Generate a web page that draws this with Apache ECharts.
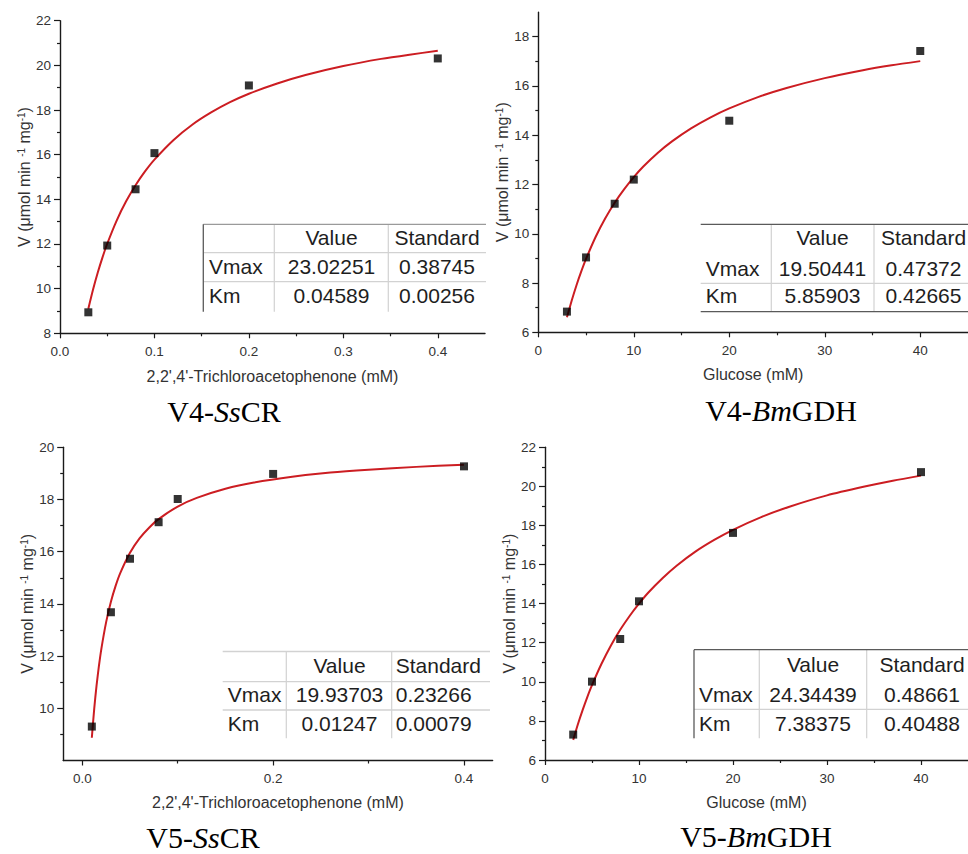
<!DOCTYPE html>
<html><head><meta charset="utf-8">
<script src="https://cdn.jsdelivr.net/npm/echarts@6/dist/echarts.min.js"></script>
<style>html,body{margin:0;padding:0;background:#fff}#c{width:968px;height:854px}</style>
</head><body><div id="c"></div>
<script>
// ---------- data ----------
const xTitleCR = "2,2',4'-Trichloroacetophenone (mM)";
const xTitleGDH = "Glucose (mM)";
const yTitle = "V (μmol min {sup|-1} mg{sup|-1})";
const captions = ["V4-{i|Ss}CR", "V4-{i|Bm}GDH", "V5-{i|Ss}CR", "V5-{i|Bm}GDH"];

const tableColumns = ["Value", "Standard"];
const tableRows = ["Vmax", "Km"];
const v4SsCR_table = [["23.02251", "0.38745"], ["0.04589", "0.00256"]];
const v4BmGDH_table = [["19.50441", "0.47372"], ["5.85903", "0.42665"]];
const v5SsCR_table = [["19.93703", "0.23266"], ["0.01247", "0.00079"]];
const v5BmGDH_table = [["24.34439", "0.48661"], ["7.38375", "0.40488"]];

// measured points
const v4SsCR_S = [0.03, 0.05, 0.08, 0.1, 0.2, 0.4];
const v4SsCR_V = [8.94, 11.93, 14.45, 16.07, 19.10, 20.31];
const v4BmGDH_S = [3, 5, 8, 10, 20, 40];
const v4BmGDH_V = [6.84, 9.04, 11.22, 12.20, 14.59, 17.42];
const v5SsCR_S = [0.01, 0.03, 0.05, 0.08, 0.1, 0.2, 0.4];
const v5SsCR_V = [9.30, 13.68, 15.73, 17.13, 18.02, 18.98, 19.27];
const v5BmGDH_S = [3, 5, 8, 10, 20, 40];
const v5BmGDH_V = [7.30, 10.01, 12.19, 14.12, 17.62, 20.73];

// fitted curves
const v4SsCR_fitS = [0.03, 0.035, 0.04, 0.045, 0.05, 0.06, 0.07, 0.08, 0.09, 0.1, 0.12, 0.14, 0.16, 0.18, 0.2, 0.23, 0.26, 0.3, 0.34, 0.37, 0.4];
const v4SsCR_fitV = [9.10, 9.96, 10.72, 11.40, 12.01, 13.05, 13.91, 14.63, 15.25, 15.78, 16.65, 17.34, 17.89, 18.35, 18.73, 19.19, 19.57, 19.97, 20.29, 20.48, 20.65];
const v4BmGDH_fitS = [3, 3.5, 4, 4.5, 5, 6, 7, 8, 9, 10, 11, 12.5, 14, 16, 18, 20, 23, 26, 30, 34, 37, 40];
const v4BmGDH_fitV = [6.61, 7.29, 7.91, 8.47, 8.98, 9.87, 10.62, 11.26, 11.81, 12.30, 12.73, 13.28, 13.75, 14.28, 14.72, 15.09, 15.55, 15.92, 16.32, 16.64, 16.84, 17.01];
const v5SsCR_fitS = [0.01, 0.0125, 0.015, 0.0175, 0.02, 0.025, 0.03, 0.035, 0.04, 0.05, 0.06, 0.07, 0.08, 0.1, 0.12, 0.15, 0.18, 0.22, 0.26, 0.3, 0.35, 0.4];
const v5SsCR_fitV = [8.87, 9.98, 10.89, 11.64, 12.28, 13.30, 14.08, 14.70, 15.20, 15.96, 16.51, 16.92, 17.25, 17.73, 18.06, 18.41, 18.65, 18.87, 19.03, 19.14, 19.25, 19.33];
const v5BmGDH_fitS = [3, 3.5, 4, 4.5, 5, 6, 7, 8, 9, 10, 11, 12.5, 14, 16, 18, 20, 23, 26, 30, 34, 37, 40];
const v5BmGDH_fitV = [7.03, 7.83, 8.55, 9.22, 9.83, 10.91, 11.85, 12.66, 13.37, 14.00, 14.57, 15.30, 15.94, 16.66, 17.26, 17.78, 18.43, 18.96, 19.54, 19.99, 20.29, 20.55];

// tick values
const xMajorCR1 = [0, 0.1, 0.2, 0.3, 0.4];
const xMinorCR1 = [0.05, 0.15, 0.25, 0.35];
const xMajorCR2 = [0, 0.2, 0.4];
const xMinorCR2 = [0.1, 0.3];
const xMajorGDH = [0, 10, 20, 30, 40];
const xMinorGDH = [5, 15, 25, 35];
const yMajorP1 = [8, 10, 12, 14, 16, 18, 20, 22];
const yMinorP1 = [9, 11, 13, 15, 17, 19, 21];
const yMajorP2 = [6, 8, 10, 12, 14, 16, 18];
const yMinorP2 = [7, 9, 11, 13, 15, 17];
const yMajorP3 = [10, 12, 14, 16, 18, 20];
const yMinorP3 = [9, 11, 13, 15, 17, 19];
const yMajorP4 = [6, 8, 10, 12, 14, 16, 18, 20, 22];
const yMinorP4 = [7, 9, 11, 13, 15, 17, 19, 21];

// ---------- layout ----------
const SANS = "'Liberation Sans', Arial, sans-serif";
const SERIF = "'Liberation Serif', 'Times New Roman', serif";
const RED = '#cc1d22';
const AXIS = '#1a1a1a';

const panels = [
  { grid: {left: 60, top: 20.7, width: 425, height: 312.6}, x: [0, 0.45], y: [8, 22],
    xMajor: xMajorCR1, xMinor: xMinorCR1, yMajor: yMajorP1, yMinor: yMinorP1, xDec: 1,
    xName: xTitleCR, S: v4SsCR_S, V: v4SsCR_V, fS: v4SsCR_fitS, fV: v4SsCR_fitV, xGap: 35, yGap: 26 },
  { grid: {left: 538.3, top: 12.1, width: 433.8, height: 320.2}, x: [0, 45], y: [6, 19],
    xMajor: xMajorGDH, xMinor: xMinorGDH, yMajor: yMajorP2, yMinor: yMinorP2, xDec: 0,
    xName: xTitleGDH, S: v4BmGDH_S, V: v4BmGDH_V, fS: v4BmGDH_fitS, fV: v4BmGDH_fitV, xGap: 34, yGap: 26 },
  { grid: {left: 63.2, top: 447.3, width: 429.4, height: 313.2}, x: [-0.02, 0.43], y: [8, 20],
    xMajor: xMajorCR2, xMinor: xMinorCR2, yMajor: yMajorP3, yMinor: yMinorP3, xDec: 1,
    xName: xTitleCR, S: v5SsCR_S, V: v5SsCR_V, fS: v5SsCR_fitS, fV: v5SsCR_fitV, xGap: 34, yGap: 27 },
  { grid: {left: 545, top: 447.3, width: 426.2, height: 312.7}, x: [0, 45], y: [6, 22],
    xMajor: xMajorGDH, xMinor: xMinorGDH, yMajor: yMajorP4, yMinor: yMinorP4, xDec: 0,
    xName: xTitleGDH, S: v5BmGDH_S, V: v5BmGDH_V, fS: v5BmGDH_fitS, fV: v5BmGDH_fitV, xGap: 34, yGap: 26 }
];

const labelStyle = {color: '#333', fontSize: 13.5, fontFamily: SANS};
const grids = [], xAxes = [], yAxes = [], series = [];
panels.forEach((p, i) => {
  grids.push(Object.assign({}, p.grid));
  xAxes.push({
    gridIndex: i, type: 'value', min: p.x[0], max: p.x[1], position: 'bottom',
    name: p.xName, nameLocation: 'middle', nameGap: p.xGap,
    nameTextStyle: {color: '#333', fontSize: 16, fontFamily: SANS},
    axisLine: {show: true, onZero: false, lineStyle: {color: AXIS, width: 1.4}},
    axisTick: {show: true, length: 5, customValues: p.xMajor, lineStyle: {color: AXIS, width: 1.2}},
    axisLabel: Object.assign({customValues: p.xMajor, margin: 11, formatter: v => Number(v).toFixed(p.xDec)}, labelStyle),
    splitLine: {show: false}
  });
  yAxes.push({
    gridIndex: i, type: 'value', min: p.y[0], max: p.y[1], position: 'left',
    name: yTitle, nameLocation: 'middle', nameGap: p.yGap,
    nameTextStyle: {color: '#333', fontSize: 16, fontFamily: SANS,
      rich: {sup: {fontSize: 10, fontFamily: SANS, color: '#333', verticalAlign: 'top'}}},
    axisLine: {show: true, onZero: false, lineStyle: {color: AXIS, width: 1.4}},
    axisTick: {show: true, length: 6, customValues: p.yMajor, lineStyle: {color: AXIS, width: 1.2}},
    axisLabel: Object.assign({customValues: p.yMajor, margin: 9}, labelStyle),
    splitLine: {show: false}
  });
  series.push({
    type: 'line', xAxisIndex: i, yAxisIndex: i, showSymbol: false, smooth: 0.25,
    lineStyle: {color: RED, width: 2}, data: p.fS.map((s, k) => [s, p.fV[k]]), z: 2, silent: true
  });
  series.push({
    type: 'scatter', xAxisIndex: i, yAxisIndex: i, symbol: 'rect', symbolSize: 8,
    itemStyle: {color: '#000'}, data: p.S.map((s, k) => [s, p.V[k]]), z: 3
  });
});
// minor tick axes
panels.forEach((p, i) => {
  xAxes.push({
    gridIndex: i, type: 'value', min: p.x[0], max: p.x[1], position: 'bottom',
    axisLine: {show: false, onZero: false}, axisLabel: {show: false}, splitLine: {show: false},
    axisTick: {show: true, length: 3, customValues: p.xMinor, lineStyle: {color: AXIS, width: 1.2}}
  });
  yAxes.push({
    gridIndex: i, type: 'value', min: p.y[0], max: p.y[1], position: 'left',
    axisLine: {show: false, onZero: false}, axisLabel: {show: false}, splitLine: {show: false},
    axisTick: {show: true, length: 3, customValues: p.yMinor, lineStyle: {color: AXIS, width: 1.2}}
  });
});

// ---------- tables ----------
const DARK = '#5a5a5a', MID = '#9a9a9a', LIGHT = '#d2d2d2';
const tableLayouts = [
  { data: v4SsCR_table, left: 203.3, right: 486, top: 224.3, bottom: 311.7, cols: [274.3, 388.3],
    rowsY: [237.5, 266.7, 295.2], nameX: 209, valX: 331.5, stdX: 437, stdAlign: 'center',
    hLines: [[224.3, MID], [252.7, LIGHT], [281.7, LIGHT]], leftLine: DARK },
  { data: v4BmGDH_table, left: 700.7, right: 968, top: 224.3, bottom: 311.7, cols: [771.3, 874],
    rowsY: [237.5, 268, 295.5], nameX: 705.7, valX: 822.5, stdX: 923.5, stdAlign: 'center',
    hLines: [[224.3, DARK], [283.3, LIGHT], [311.7, DARK]], leftLine: null },
  { data: v5SsCR_table, left: 222.7, right: 490, top: 651.5, bottom: 738.3, cols: [286.3, 391.7],
    rowsY: [665.5, 694.7, 723.8], nameX: 227.7, valX: 339.5, stdX: 395.7, stdAlign: 'left',
    hLines: [[651.5, LIGHT], [681.7, LIGHT], [710, LIGHT]], leftLine: null },
  { data: v5BmGDH_table, left: 694, right: 968, top: 649.7, bottom: 738.3, cols: [759.3, 866.7],
    rowsY: [664, 694, 723.7], nameX: 699, valX: 813, stdX: 922, stdAlign: 'center',
    hLines: [[649.7, DARK], [709.3, LIGHT]], leftLine: DARK }
];
const graphic = [];
const tFont = {fontSize: 21, fontFamily: SANS, fill: '#1e1e1e'};
tableLayouts.forEach(t => {
  t.cols.forEach(cx => graphic.push({type: 'line', z: 10, shape: {x1: cx, y1: t.top, x2: cx, y2: t.bottom},
    style: {stroke: LIGHT, lineWidth: 1.2}}));
  t.hLines.forEach(h => graphic.push({type: 'line', z: 11, shape: {x1: t.left, y1: h[0], x2: t.right, y2: h[0]},
    style: {stroke: h[1], lineWidth: 1.3}}));
  if (t.leftLine) graphic.push({type: 'line', z: 11, shape: {x1: t.left, y1: t.top, x2: t.left, y2: t.bottom},
    style: {stroke: t.leftLine, lineWidth: 1.3}});
  const txt = (s, x, y, align) => graphic.push({type: 'text', z: 12, x: x, y: y,
    style: Object.assign({text: s, align: align, textAlign: align, verticalAlign: 'middle', textVerticalAlign: 'middle'}, tFont)});
  txt(tableColumns[0], t.valX, t.rowsY[0], 'center');
  txt(tableColumns[1], t.stdX, t.rowsY[0], t.stdAlign);
  tableRows.forEach((r, k) => {
    txt(r, t.nameX, t.rowsY[k + 1], 'left');
    txt(t.data[k][0], t.valX, t.rowsY[k + 1], 'center');
    txt(t.data[k][1], t.stdX, t.rowsY[k + 1], t.stdAlign);
  });
});
// captions
const capPos = [[224, 411], [781, 410], [203, 837], [756, 836]];
captions.forEach((c, i) => graphic.push({type: 'text', z: 12, x: capPos[i][0], y: capPos[i][1],
  style: {text: c, align: 'center', textAlign: 'center', verticalAlign: 'middle', textVerticalAlign: 'middle',
    fontSize: 30, fontFamily: SERIF, fill: '#000',
    rich: {i: {fontStyle: 'italic', fontSize: 30, fontFamily: SERIF, fill: '#000', color: '#000'}}}}));

const chart = echarts.init(document.getElementById('c'), null, {renderer: 'svg'});
chart.setOption({
  backgroundColor: '#fff',
  animation: false,
  grid: grids,
  xAxis: xAxes,
  yAxis: yAxes,
  series: series,
  graphic: graphic
});
</script></body></html>
